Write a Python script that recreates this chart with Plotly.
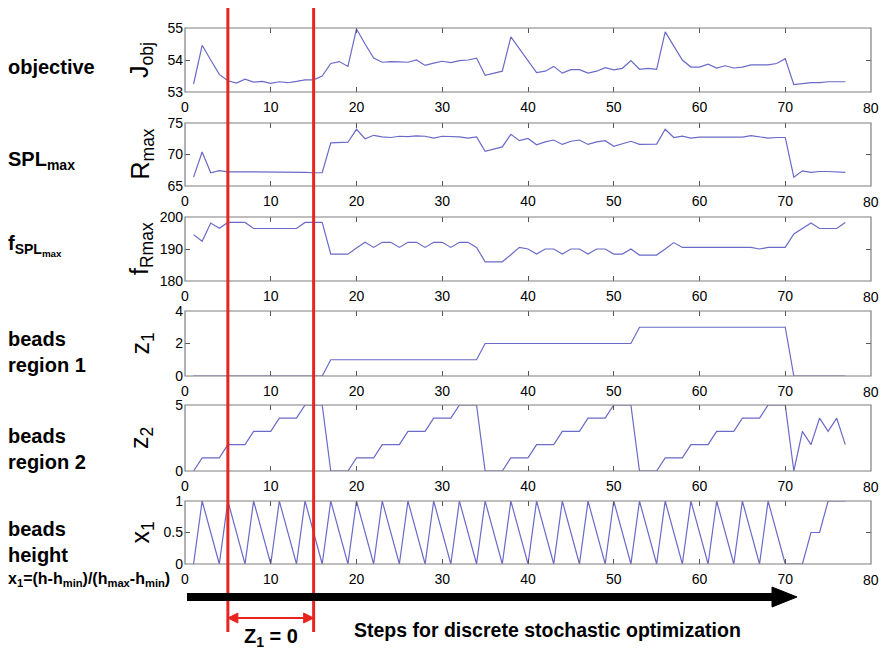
import plotly.graph_objects as go

# ---- data -------------------------------------------------------------
steps = list(range(1, 78))

j_obj = [53.25, 54.46, 54.00, 53.55, 53.35, 53.28, 53.40, 53.31, 53.33, 53.27,
         53.32, 53.29, 53.33, 53.38, 53.38, 53.50, 53.89, 53.95, 53.80, 54.97,
         54.50, 54.06, 53.93, 53.95, 53.94, 53.93, 54.00, 53.83, 53.90, 53.96,
         53.92, 53.98, 54.00, 54.06, 53.52, 53.59, 53.65, 54.72, 54.35, 53.97,
         53.61, 53.65, 53.80, 53.59, 53.70, 53.70, 53.59, 53.65, 53.76, 53.69,
         53.74, 53.98, 53.71, 53.74, 53.71, 54.88, 54.45, 54.00, 53.78, 53.78,
         53.87, 53.75, 53.82, 53.75, 53.78, 53.85, 53.85, 53.85, 53.89, 54.04,
         53.23, 53.26, 53.29, 53.29, 53.32, 53.32, 53.32]

r_max = [66.4, 70.4, 67.1, 67.45, 67.25, 67.2, 67.25, 67.25, 67.25, 67.25,
         67.2, 67.25, 67.25, 67.15, 67.1, 67.1, 71.85, 71.95, 71.95, 74.0,
         72.5, 73.05, 72.8, 72.7, 72.9, 72.85, 72.95, 72.9, 72.6, 72.9,
         72.9, 72.8, 72.6, 72.8, 70.5, 70.9, 71.2, 73.2, 72.2, 72.55,
         71.55, 72.0, 72.3, 71.6, 72.1, 72.3, 71.6, 72.0, 72.2, 71.3,
         71.7, 72.1, 71.6, 71.65, 71.65, 74.0, 72.7, 72.9, 72.6, 72.75,
         72.75, 72.75, 72.75, 72.75, 72.75, 73.0, 72.8, 72.6, 72.7, 72.7,
         66.4, 67.4, 67.15, 67.3, 67.3, 67.2, 67.15]

f_rmax = [194.5, 192.4, 198.1, 196.5, 198.3, 198.3, 198.3, 196.4, 196.4, 196.4,
          196.4, 196.4, 196.4, 198.3, 198.3, 198.3, 188.4, 188.4, 188.4, 190.3,
          192.1, 190.5, 192.1, 192.1, 190.5, 192.1, 192.1, 190.5, 192.1, 192.1,
          190.5, 192.1, 192.1, 190.5, 186.0, 186.0, 186.0, 188.2, 190.5, 190.0,
          188.4, 190.0, 190.0, 188.4, 190.0, 190.0, 188.4, 190.0, 190.0, 188.4,
          188.4, 190.0, 188.1, 188.1, 188.1, 190.0, 192.0, 190.5, 190.5, 190.5,
          190.5, 190.5, 190.5, 190.5, 190.5, 190.5, 190.0, 190.5, 190.5, 190.5,
          194.7, 196.5, 198.1, 196.4, 196.4, 196.4, 198.3]

z1 = [0, 0, 0, 0, 0, 0, 0, 0, 0, 0,
      0, 0, 0, 0, 0, 0, 1, 1, 1, 1,
      1, 1, 1, 1, 1, 1, 1, 1, 1, 1,
      1, 1, 1, 1, 2, 2, 2, 2, 2, 2,
      2, 2, 2, 2, 2, 2, 2, 2, 2, 2,
      2, 2, 3, 3, 3, 3, 3, 3, 3, 3,
      3, 3, 3, 3, 3, 3, 3, 3, 3, 3,
      0, 0, 0, 0, 0, 0, 0]

z2 = [0, 1, 1, 1, 2, 2, 2, 3, 3, 3,
      4, 4, 4, 5, 5, 5, 0, 0, 0, 1,
      1, 1, 2, 2, 2, 3, 3, 3, 4, 4,
      4, 5, 5, 5, 0, 0, 0, 1, 1, 1,
      2, 2, 2, 3, 3, 3, 4, 4, 4, 5,
      5, 5, 0, 0, 0, 1, 1, 1, 2, 2,
      2, 3, 3, 3, 4, 4, 4, 5, 5, 5,
      0, 3, 2, 4, 3, 4, 2]

x1 = [0, 1, 0.5, 0, 1, 0.5, 0, 1, 0.5, 0,
      1, 0.5, 0, 1, 0.5, 0, 1, 0.5, 0, 1,
      0.5, 0, 1, 0.5, 0, 1, 0.5, 0, 1, 0.5,
      0, 1, 0.5, 0, 1, 0.5, 0, 1, 0.5, 0,
      1, 0.5, 0, 1, 0.5, 0, 1, 0.5, 0, 1,
      0.5, 0, 1, 0.5, 0, 1, 0.5, 0, 1, 0.5,
      0, 1, 0.5, 0, 1, 0.5, 0, 1, 0.5, 0,
      0, 0, 0.5, 0.5, 1, 1, 1]

x_ticks = [0, 10, 20, 30, 40, 50, 60, 70, 80]
x_range = [0, 80]

panels = [
    dict(y=j_obj,  yrange=[53, 55],   yticks=[53, 54, 55],
         ylabel="J<sub>obj</sub>", name="<b>objective</b>"),
    dict(y=r_max,  yrange=[65, 75],   yticks=[65, 70, 75],
         ylabel="R<sub>max</sub>", name="<b>SPL<sub>max</sub></b>"),
    dict(y=f_rmax, yrange=[180, 200], yticks=[180, 190, 200],
         ylabel="f<sub>Rmax</sub>", name="<b>f<sub>SPL<sub>max</sub></sub></b>"),
    dict(y=z1,     yrange=[0, 4],     yticks=[0, 2, 4],
         ylabel="z<sub>1</sub>", name="<b>beads<br>region 1</b>"),
    dict(y=z2,     yrange=[0, 5],     yticks=[0, 5],
         ylabel="z<sub>2</sub>", name="<b>beads<br>region 2</b>"),
    dict(y=x1,     yrange=[0, 1],     yticks=[0, 0.5, 1],
         ylabel="x<sub>1</sub>", name="<b>beads<br>height</b>"),
]

# window-pixel helpers for the figure geometry
W, H = 884, 649
ML, MR, MT, MB = 185, 13, 28, 85
PW, PH = W - ML - MR, H - MT - MB


def px(X):
    return (X - ML) / PW


def py(Y):
    return (MT + PH - Y) / PH


# top / bottom pixel rows of each panel
rows = [(28, 92), (123, 186), (217, 281), (311, 376), (405, 471), (501, 564)]
label_rows = [67, 160, 245, 352, 449, 542]

FONT = "Arial, Liberation Sans, Helvetica, sans-serif"
LINE = "#6a6ac8"
FRAME = "#7f7f7f"
RED = "#e8241f"
TICK_SIZE = 14

fig = go.Figure()
layout = dict(
    width=W, height=H,
    margin=dict(l=ML, r=MR, t=MT, b=MB),
    paper_bgcolor="white", plot_bgcolor="white",
    showlegend=False,
    font=dict(family=FONT, size=TICK_SIZE, color="black"),
)

# the last tick label sits on the frame edge; it is written as an
# annotation at the tick position so it is never dropped
x_ticktext = [str(v) for v in x_ticks[:-1]] + [""]
last_tick = x_ticks[-1]

annotations = []
shapes = []
for i, (p, (yt, yb), ly) in enumerate(zip(panels, rows, label_rows)):
    n = "" if i == 0 else str(i + 1)
    fig.add_trace(go.Scatter(
        x=steps, y=p["y"], mode="lines",
        line=dict(color=LINE, width=1.2),
        xaxis="x" + n, yaxis="y" + n, hoverinfo="skip",
    ))
    common = dict(ticks="inside", ticklen=5, tickcolor="#555",
                  mirror="allticks", showline=False,
                  showgrid=False, zeroline=False,
                  ticklabeloverflow="allow",
                  tickfont=dict(size=TICK_SIZE, color="black"))
    layout["xaxis" + n] = dict(domain=[0, 1], anchor="y" + n, range=x_range,
                               tickvals=x_ticks, ticktext=x_ticktext,
                               ticklabelstandoff=5, **common)
    layout["yaxis" + n] = dict(domain=[py(yb), py(yt)], anchor="x" + n,
                               range=p["yrange"], tickvals=p["yticks"],
                               ticklabelstandoff=1, **common)
    annotations.append(dict(
        x=last_tick, xref="x" + n, y=py(yb), yref="paper",
        text=str(last_tick), showarrow=False,
        xanchor="center", yanchor="top", yshift=-6,
        font=dict(size=TICK_SIZE, color="black", family=FONT),
    ))
    # axes box drawn over the trace
    shapes.append(dict(type="rect", xref=f"x{n} domain", yref=f"y{n} domain",
                       x0=0, x1=1, y0=0, y1=1, layer="above",
                       line=dict(color=FRAME, width=1.2)))
    # rotated axis label
    annotations.append(dict(
        x=px(141), y=py((yt + yb) / 2), xref="paper", yref="paper",
        text=p["ylabel"], textangle=-90, showarrow=False,
        font=dict(size=25, color="black", family=FONT),
        xanchor="center", yanchor="middle",
    ))
    # descriptive label on the far left
    annotations.append(dict(
        x=px(6), y=py(ly), xref="paper", yref="paper",
        text=p["name"], showarrow=False, align="left",
        font=dict(size=20, color="black", family=FONT),
        xanchor="left", yanchor="middle",
    ))

annotations.append(dict(
    x=px(6), y=py(579), xref="paper", yref="paper",
    text="<b>x<sub>1</sub>=(h-h<sub>min</sub>)/(h<sub>max</sub>-h<sub>min</sub>)</b>",
    showarrow=False, xanchor="left", yanchor="middle",
    font=dict(size=16, color="black", family=FONT),
))
annotations.append(dict(
    x=px(352), y=py(630), xref="paper", yref="paper",
    text="<b>Steps for discrete stochastic optimization</b>",
    showarrow=False, xanchor="left", yanchor="middle",
    font=dict(size=19.5, color="black", family=FONT),
))

# window where z1 stays at zero
z_start, z_end = 5, 15
xs = (z_start - x_range[0]) / (x_range[1] - x_range[0])
xe = (z_end - x_range[0]) / (x_range[1] - x_range[0])

annotations.append(dict(
    x=(xs + xe) / 2, y=py(637), xref="paper", yref="paper",
    text="<b>Z<sub>1</sub> = 0</b>", showarrow=False,
    xanchor="center", yanchor="middle",
    font=dict(size=20, color="black", family=FONT),
))

for xv in (xs, xe):
    shapes.append(dict(type="line", xref="paper", yref="paper",
                       x0=xv, x1=xv, y0=py(8), y1=py(632),
                       line=dict(color=RED, width=3), layer="above"))

# red double-headed arrow between the two markers
ya = py(618)
hl, hh = 10 / PW, 5 / PH
shapes.append(dict(type="line", xref="paper", yref="paper",
                   x0=xs + hl, x1=xe - hl, y0=ya, y1=ya,
                   line=dict(color=RED, width=2)))
shapes.append(dict(type="path", xref="paper", yref="paper",
                   path=f"M {xs},{ya} L {xs + hl},{ya + hh} L {xs + hl},{ya - hh} Z",
                   fillcolor=RED, line=dict(color=RED, width=1)))
shapes.append(dict(type="path", xref="paper", yref="paper",
                   path=f"M {xe},{ya} L {xe - hl},{ya + hh} L {xe - hl},{ya - hh} Z",
                   fillcolor=RED, line=dict(color=RED, width=1)))

# thick black progress arrow
yb_ = py(597)
shapes.append(dict(type="line", xref="paper", yref="paper",
                   x0=px(187), x1=px(776), y0=yb_, y1=yb_,
                   line=dict(color="black", width=8)))
shapes.append(dict(type="path", xref="paper", yref="paper",
                   path=(f"M {px(772)},{py(587)} L {px(797)},{yb_} "
                         f"L {px(772)},{py(607)} Z"),
                   fillcolor="black", line=dict(color="black", width=1)))

layout["annotations"] = annotations
layout["shapes"] = shapes
fig.update_layout(**layout)

fig.write_html("out.html")
